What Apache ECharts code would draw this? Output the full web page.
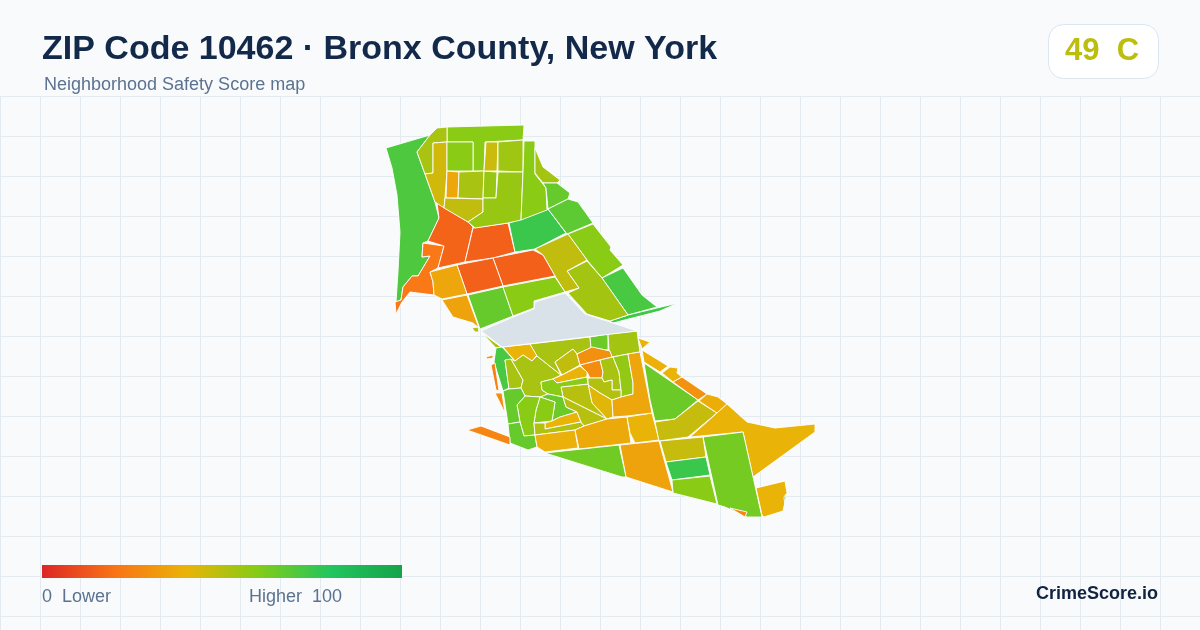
<!DOCTYPE html>
<html>
<head>
<meta charset="utf-8">
<style>
  html, body { margin: 0; padding: 0; background: #f8fafc; }
  #chart { width: 1200px; height: 630px; }
</style>
<script src="https://cdn.jsdelivr.net/npm/echarts@6/dist/echarts.min.js"></script>
</head>
<body>
<div id="chart"></div>
<script>
// tract outlines (map units, y grows downwards)
const tractShapes = [
  // north block
  [[386,148],[430,135],[417,152],[425,174],[435,202],[439,218],[428,241],[423,243],[422,257],[430,256],[418,276],[412,276],[403,287],[401,300],[396,302],[398,272],[400,232],[397,195],[392,168]],
  [[423,243],[444,246],[438,268],[430,272],[433,282],[434,295],[410,292],[402,302],[396,314],[395,302],[401,300],[403,287],[412,276],[418,276],[430,256],[422,257]],
  [[437,203],[468,222],[473,227],[465,262],[438,268],[444,246],[428,241],[439,218]],
  [[473,228],[508,223],[515,252],[493,258],[465,262]],
  [[509,223],[548,209],[566,233],[535,249],[515,252]],
  [[447,127],[524,125],[523,140],[485,142],[484,171],[473,171],[473,142],[447,142]],
  [[437,128],[447,127],[447,142],[433,143],[433,173],[425,174],[417,152],[430,135]],
  [[433,143],[447,142],[447,171],[445,198],[444,208],[435,202],[425,174],[433,173]],
  [[447,142],[473,142],[473,171],[447,171]],
  [[447,171],[459,172],[458,198],[446,198]],
  [[459,172],[484,171],[483,199],[458,198]],
  [[445,198],[483,199],[483,212],[468,222],[444,208]],
  [[484,171],[497,172],[496,198],[483,198]],
  [[486,142],[498,142],[497,171],[484,171]],
  [[498,142],[523,140],[523,172],[498,171]],
  [[498,172],[523,172],[521,220],[508,223],[475,228],[468,222],[483,212],[483,198],[496,198]],
  [[524,141],[535,141],[535,174],[546,188],[547,210],[521,220],[523,172]],
  [[535,148],[543,167],[560,180],[557,183],[543,183],[535,173]],
  [[543,183],[557,183],[570,193],[568,199],[548,209],[546,188]],
  [[568,199],[578,202],[593,223],[567,234],[548,209]],
  [[568,234],[593,224],[611,247],[610,250],[623,265],[602,278],[587,260]],
  [[602,278],[623,268],[642,295],[657,307],[628,315]],
  [[610,321],[628,315],[657,308],[678,303],[660,311],[613,323]],
  [[567,271],[587,261],[602,278],[628,315],[610,321],[587,314],[568,293],[579,288]],
  [[535,249],[568,234],[587,260],[567,271],[579,288],[565,292],[555,276],[543,255]],
  [[493,258],[533,250],[543,255],[555,276],[503,286]],
  [[457,265],[493,258],[503,286],[467,294]],
  [[430,272],[457,265],[467,294],[442,299],[434,295],[433,282]],
  [[442,300],[467,295],[479,328],[473,323],[453,317]],
  [[472,328],[478,327],[479,332],[475,332]],
  [[468,295],[503,287],[513,316],[480,329]],
  [[503,287],[555,277],[565,292],[534,301],[534,308],[513,316]],
  // south block
  [[482,333],[501,347],[496,348]],
  [[503,347],[530,344],[537,355],[532,361],[523,355],[515,361]],
  [[496,348],[502,347],[514,360],[505,360],[509,388],[503,391],[494,362]],
  [[505,360],[511,359],[523,380],[521,388],[509,389]],
  [[511,359],[515,361],[523,355],[532,361],[537,356],[561,375],[553,379],[541,382],[542,390],[548,394],[540,397],[525,396],[521,388],[523,380]],
  [[530,344],[590,337],[591,348],[577,354],[573,349],[555,362],[561,375],[537,356]],
  [[555,362],[573,349],[577,354],[580,365],[562,375]],
  [[590,337],[608,334],[608,350],[591,348]],
  [[608,334],[637,331],[640,352],[628,354],[612,357],[609,350]],
  [[577,354],[592,347],[610,351],[612,357],[588,363],[580,365]],
  [[580,365],[588,363],[600,360],[603,372],[602,378],[590,378],[587,372]],
  [[553,379],[562,375],[580,366],[587,372],[587,377],[557,383]],
  [[600,360],[613,357],[619,372],[621,390],[612,390],[612,380],[604,382],[602,378],[603,372]],
  [[613,357],[628,354],[633,383],[633,394],[621,397],[621,390],[619,372]],
  [[588,378],[602,378],[604,382],[612,380],[612,390],[621,390],[621,397],[612,400],[600,393],[588,385]],
  [[588,385],[600,393],[612,400],[613,417],[607,419],[592,403]],
  [[561,387],[588,384],[592,403],[607,419],[563,397]],
  [[541,382],[553,379],[557,383],[587,377],[588,384],[561,387],[563,397],[548,394],[542,390]],
  [[548,394],[563,397],[566,407],[577,412],[560,417],[552,421],[555,402],[540,397]],
  [[540,397],[555,402],[552,421],[534,423],[536,410]],
  [[525,396],[540,397],[536,410],[534,423],[535,435],[524,436],[520,422],[517,405]],
  [[503,391],[509,389],[521,388],[525,396],[517,405],[520,422],[508,424]],
  [[508,424],[520,422],[524,436],[535,435],[537,447],[528,450],[510,443]],
  [[545,423],[552,421],[560,417],[577,412],[581,422],[545,429]],
  [[534,423],[545,423],[545,429],[581,422],[584,426],[575,430],[535,435]],
  [[563,397],[607,419],[584,426],[581,422],[577,412],[566,407]],
  [[535,435],[575,430],[578,448],[545,452],[537,447]],
  [[575,430],[584,426],[607,419],[627,417],[631,443],[579,449]],
  [[627,417],[652,413],[659,440],[635,443],[630,433]],
  [[628,354],[640,352],[652,413],[627,416],[613,417],[612,400],[621,397],[633,394],[633,383]],
  [[644,363],[698,400],[675,419],[655,421],[650,400]],
  [[655,422],[675,419],[698,401],[717,413],[688,437],[659,441]],
  [[638,338],[650,342],[642,349]],
  [[642,350],[668,366],[660,372],[644,362]],
  [[670,367],[678,368],[677,373],[682,377],[673,382],[662,373]],
  [[682,377],[707,394],[698,400],[673,382]],
  [[707,394],[718,397],[727,404],[717,413],[699,401]],
  [[727,404],[747,422],[775,428],[815,424],[815,432],[753,477],[743,432],[690,437],[717,413]],
  [[703,437],[743,432],[762,517],[747,517],[725,507],[718,505]],
  [[730,508],[747,512],[745,517]],
  [[756,488],[785,481],[787,493],[783,511],[764,517],[762,515]],
  [[784,497],[786,494],[785,507]],
  [[660,441],[703,437],[706,457],[666,462]],
  [[666,462],[706,457],[710,475],[672,480]],
  [[672,480],[710,476],[717,504],[673,493]],
  [[620,445],[659,441],[673,492],[626,477]],
  [[545,453],[619,445],[626,477],[622,477]],
  [[486,357],[493,355],[493,358],[487,359]],
  [[491,365],[495,363],[499,391],[496,390]],
  [[495,393],[502,393],[505,413]],
  [[467,430],[481,426],[510,437],[510,445]]
];

// score per tract, same order as tractShapes
const tractScores = [
  71, 22, 16, 15, 75, 59, 53, 45, 59, 36, 53, 48, 56, 46, 55, 56, 59, 54, 66, 68,
  59, 72, 74, 54, 48, 15, 15, 36, 35, 53, 66, 59,
  53, 40, 72, 53, 53, 53, 48, 65, 54, 29, 28, 40, 53, 57, 51, 42, 50, 59, 65, 59,
  59, 66, 66, 40, 51, 50, 39, 37, 40, 36, 65, 47, 40, 39, 40, 30, 38, 40, 63, 26,
  40, 70, 47, 75, 59, 35, 64, 28, 24, 28, 26
];

// the grey parcel has no score
const noDataShape = [[481,331],[513,317],[534,309],[535,302],[565,293],[585,314],[610,322],[637,331],[502,347]];

const scaleColors = ["#dc2626", "#f97316", "#eab308", "#84cc16", "#22c55e", "#16a34a"];

const titleText = "ZIP Code 10462 · Bronx County, New York";
const subtitleText = "Neighborhood Safety Score map";
const gradeText = "49  C";

const features = tractShapes.map((ring, i) => ({
  type: "Feature",
  properties: { name: "tract" + i },
  geometry: { type: "Polygon", coordinates: [ring.concat([ring[0]])] }
}));
features.push({
  type: "Feature",
  properties: { name: "noData" },
  geometry: { type: "Polygon", coordinates: [noDataShape.concat([noDataShape[0]])] }
});
echarts.registerMap("zip10462", { type: "FeatureCollection", features: features });

// fit the map box to the traced outlines so nothing gets stretched
const allPoints = tractShapes.flat().concat(noDataShape);
const xs = allPoints.map(p => p[0]);
const ys = allPoints.map(p => p[1]);
const minX = Math.min(...xs), maxX = Math.max(...xs);
const minY = Math.min(...ys), maxY = Math.max(...ys);

const chart = echarts.init(document.getElementById("chart"), null, { renderer: "canvas" });

const font = "'Liberation Sans', Arial, sans-serif";

chart.setOption({
  animation: false,
  backgroundColor: "#f8fafc",
  title: [
    { text: titleText, left: 42, top: 33, padding: 0,
      textStyle: { fontFamily: font, fontSize: 34, fontWeight: "bold", color: "#12294a" } },
    { text: subtitleText, left: 44, top: 76, padding: 0,
      textStyle: { fontFamily: font, fontSize: 18, fontWeight: "normal", color: "#5b7391" } },
    { text: gradeText, left: 1065, top: 36, padding: 0,
      textStyle: { fontFamily: font, fontSize: 31, fontWeight: "bold", color: "#bcbe0e" } },
    { text: "0  Lower", left: 42, top: 588, padding: 0,
      textStyle: { fontFamily: font, fontSize: 18, fontWeight: "normal", color: "#5b7391" } },
    { text: "Higher  100", left: 249, top: 588, padding: 0,
      textStyle: { fontFamily: font, fontSize: 18, fontWeight: "normal", color: "#5b7391" } },
    { text: "CrimeScore.io", right: 42, top: 585, padding: 0,
      textStyle: { fontFamily: font, fontSize: 18, fontWeight: "bold", color: "#12233f" } }
  ],
  graphic: [
    { type: "rect", z: 2, shape: { x: 1048.5, y: 24.5, width: 110, height: 54, r: 15 },
      style: { fill: "#ffffff", stroke: "#dfe5ee", lineWidth: 1 } },
    // legend bar, same colours as the visualMap below
    { type: "rect", z: 2, shape: { x: 42, y: 565, width: 360, height: 13 },
      style: { fill: new echarts.graphic.LinearGradient(0, 0, 1, 0,
        scaleColors.map((c, i) => ({ offset: i / (scaleColors.length - 1), color: c }))) } }
  ],
  grid: { left: 0, right: 0, top: 96, bottom: 0 },
  xAxis: {
    type: "value", min: 0, max: 1200, interval: 40,
    axisLine: { show: false }, axisTick: { show: false }, axisLabel: { show: false },
    splitLine: { show: true, lineStyle: { color: "#e3ebf0", width: 1 } }
  },
  yAxis: {
    type: "value", inverse: true, min: 0, max: 534, interval: 40,
    axisLine: { show: false }, axisTick: { show: false }, axisLabel: { show: false },
    splitLine: { show: true, lineStyle: { color: "#e3ebf0", width: 1 } }
  },
  visualMap: {
    type: "continuous", min: 0, max: 100, show: false,
    inRange: { color: scaleColors },
    seriesIndex: 0
  },
  series: [
    {
      type: "map",
      map: "zip10462",
      projection: { project: p => p, unproject: p => p },
      left: minX, top: minY, width: maxX - minX, height: maxY - minY,
      roam: false, silent: true, selectedMode: false,
      label: { show: false },
      emphasis: { disabled: true },
      itemStyle: { areaColor: "#d9e1e9", borderColor: "#ffffff", borderWidth: 0.9 },
      data: tractScores.map((v, i) => ({ name: "tract" + i, value: v }))
    }
  ]
});
</script>
</body>
</html>
